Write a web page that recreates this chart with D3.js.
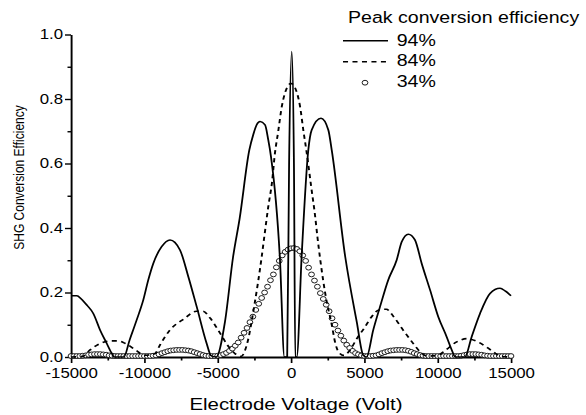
<!DOCTYPE html>
<html>
<head>
<meta charset="utf-8">
<script src="https://cdn.jsdelivr.net/npm/d3@7"></script>
<style>
  body { margin: 0; background: #fff; }
  svg { display: block; }
  text { font-family: "Liberation Sans", Arial, sans-serif; fill: #000; }
</style>
</head>
<body>
<div id="chart"></div>
<script>
// peak conversion efficiency 94% (solid)
var solidVolts = [-15000,-14600,-14300,-13900,-13480,-13020,-12560,-12220,-12050,-11400,
  -11000,-10520,-10070,-9730,-9390,-8820,-8250,-7570,-7000,-6430,
  -5750,-5450,-5100,-4500,-3950,-3500,-2840,-2570,-2340,-2110,
  -1770,-1550,-1360,-750,-450,-260,-130,50,200,290,
  390,730,1180,1410,2045,2545,2775,3700,4480,4930,
  5150,5610,6070,6630,7200,7550,8000,8450,8910,9480,
  10040,10610,10960,11200,11850,12320,12890,13570,14250,14600,15000];
var solidEff = [0.19,0.19,0.18,0.16,0.135,0.084,0.042,0.011,0,0,
  0.053,0.115,0.177,0.239,0.29,0.342,0.363,0.332,0.249,0.156,
  0.042,0.004,0,0.11,0.31,0.43,0.642,0.69,0.72,0.73,
  0.72,0.673,0.62,0.30,0,0,0.6,0.947,0.6,0,
  0,0.316,0.642,0.704,0.74,0.704,0.642,0.31,0.11,0.005,
  0,0.084,0.156,0.239,0.30,0.357,0.381,0.363,0.29,0.208,
  0.125,0.063,0.022,0,0,0.063,0.135,0.197,0.213,0.205,0.19];

// 84% (dashed)
var dashVolts = [-15000,-14200,-13700,-13000,-12300,-11800,-11300,-10600,-10000,-9300,
  -8900,-8250,-7300,-6450,-6000,-5500,-4850,-4300,-3800,-3400,
  -3000,-2500,-2000,-1800,-1550,-1300,-1100,-870,-630,-400,
  0,400,620,850,1050,1400,1650,1800,2000,2400,
  2780,3000,3250,3600,4000,4500,5000,5500,6000,6500,
  7000,7700,8400,8800,9300,10000,10500,11300,12000,12600,
  13300,13800,14300,15000];
var dashEff = [0,0.002,0.022,0.042,0.05,0.05,0.042,0.022,0.005,0.01,
  0.04,0.084,0.118,0.142,0.142,0.12,0.075,0.035,0.01,0.002,
  0.04,0.16,0.31,0.38,0.466,0.54,0.63,0.70,0.776,0.82,
  0.848,0.82,0.776,0.70,0.64,0.52,0.435,0.373,0.30,0.18,
  0.10,0.047,0.015,0.005,0.02,0.058,0.09,0.125,0.146,0.148,
  0.125,0.08,0.038,0.016,0.003,0.005,0.02,0.047,0.057,0.05,
  0.032,0.016,0.002,0];

// 34% (open circles), one every 200 V
var circleVolts = d3.range(-15000, 15001, 200);
var circleEff = [
  0.003,0.003,0.003,0.003,0.004,0.005,0.007,0.008,0.009,0.009,
  0.009,0.008,0.007,0.005,0.004,0.003,0.003,0.003,0.003,0.003,
  0.003,0.003,0.003,0.003,0.003,0.003,0.003,0.003,0.004,0.005,
  0.008,0.012,0.015,0.018,0.02,0.021,0.022,0.022,0.022,0.021,
  0.02,0.018,0.015,0.012,0.009,0.006,0.004,0.003,0.003,0.003,
  0.004,0.006,0.009,0.013,0.019,0.026,0.035,0.045,0.06,0.075,
  0.09,0.108,0.125,0.146,0.165,0.183,0.2,0.218,0.238,0.256,
  0.278,0.298,0.315,0.326,0.333,0.337,0.338,0.335,0.328,0.315,
  0.298,0.277,0.256,0.237,0.218,0.198,0.18,0.162,0.142,0.12,
  0.1,0.082,0.066,0.051,0.038,0.028,0.019,0.012,0.008,0.005,
  0.003,0.003,0.003,0.004,0.005,0.008,0.012,0.015,0.018,0.02,
  0.021,0.022,0.022,0.022,0.021,0.019,0.016,0.012,0.009,0.006,
  0.004,0.003,0.003,0.003,0.003,0.003,0.003,0.003,0.003,0.003,
  0.003,0.003,0.003,0.004,0.006,0.008,0.009,0.009,0.009,0.008,
  0.007,0.005,0.004,0.003,0.003,0.003,0.003,0.003,0.003,0.003,
  0.003];

var xMajor = [-15000, -10000, -5000, 0, 5000, 10000, 15000];
var xMinor = [-12500, -7500, -2500, 2500, 7500, 12500];
var yMajor = [0, 0.2, 0.4, 0.6, 0.8, 1.0];
var yMinor = [0.1, 0.3, 0.5, 0.7, 0.9];
var legendLabels = ["94%", "84%", "34%"];

// the original figure is stretched sideways, so draw in a squeezed space
var SX = 1.2;
var W = 586, H = 415;

var svg = d3.select("#chart").append("svg")
    .attr("width", W)
    .attr("height", H);
var g = svg.append("g").attr("transform", "scale(" + SX + ",1)");

var x = d3.scaleLinear().domain([-15000, 15000]).range([71 / SX, 511 / SX]);
var y = d3.scaleLinear().domain([0, 1]).range([357, 34.5]);

// y axis
var yAx = g.append("g").attr("transform", "translate(" + x(-15000) + ",0)");
yAx.call(d3.axisLeft(y).tickValues(yMajor).tickSize(6 / SX).tickPadding(2 / SX)
    .tickSizeOuter(0).tickFormat(d3.format(".1f")));
yAx.append("g").call(d3.axisLeft(y).tickValues(yMinor).tickSize(3.5 / SX).tickFormat(""))
    .select(".domain").remove();

// x axis
var xAx = g.append("g").attr("transform", "translate(0," + y(0) + ")");
xAx.call(d3.axisBottom(x).tickValues(xMajor).tickSize(6).tickPadding(5)
    .tickSizeOuter(0).tickFormat(function(d) { return String(d); }));
xAx.append("g").call(d3.axisBottom(x).tickValues(xMinor).tickSize(3.5).tickFormat(""))
    .select(".domain").remove();

g.selectAll(".tick text")
    .attr("font-family", "'Liberation Sans', Arial, sans-serif")
    .attr("font-size", 14);
yAx.selectAll("path.domain").attr("stroke-width", 1.6);
xAx.selectAll("path.domain").attr("stroke-width", 2);
g.selectAll(".tick line").attr("stroke-width", 1.4);

// axis titles
g.append("text")
    .attr("x", 296 / SX)
    .attr("y", 410)
    .attr("text-anchor", "middle")
    .attr("font-size", 17)
    .text("Electrode Voltage (Volt)");

g.append("text")
    .attr("transform", "translate(" + (23.5 / SX) + ",177.5) rotate(-90)")
    .attr("text-anchor", "middle")
    .attr("font-size", 12)
    .text("SHG Conversion Efficiency");

// circles (34%)
var circData = circleVolts.map(function(v, i) { return [v, circleEff[i]]; });
g.append("g").selectAll("circle")
    .data(circData)
  .enter().append("circle")
    .attr("cx", function(d) { return x(d[0]); })
    .attr("cy", function(d) { return y(d[1]); })
    .attr("r", 2.4)
    .attr("fill", "#fff")
    .attr("stroke", "#000")
    .attr("stroke-width", 0.8);

var line = d3.line()
    .x(function(d) { return x(d[0]); })
    .y(function(d) { return y(d[1]); })
    .curve(d3.curveMonotoneX);

// dashed (84%)
g.append("path")
    .datum(dashVolts.map(function(v, i) { return [v, dashEff[i]]; }))
    .attr("fill", "none")
    .attr("stroke", "#000")
    .attr("stroke-width", 1.6)
    .attr("stroke-dasharray", "4.2,3.7")
    .attr("d", line);

// solid (94%)
g.append("path")
    .datum(solidVolts.map(function(v, i) { return [v, solidEff[i]]; }))
    .attr("fill", "none")
    .attr("stroke", "#000")
    .attr("stroke-width", 1.5)
    .attr("d", line);

// legend
var lg = g.append("g");
lg.append("text")
    .attr("x", 348 / SX)
    .attr("y", 23.5)
    .attr("font-size", 16.3)
    .text("Peak conversion efficiency");

var rowY = [46.5, 66.5, 87];
lg.append("line")
    .attr("x1", 343 / SX).attr("x2", 388 / SX)
    .attr("y1", 40.7).attr("y2", 40.7)
    .attr("stroke", "#000").attr("stroke-width", 1.5);
lg.append("line")
    .attr("x1", 343 / SX).attr("x2", 386 / SX)
    .attr("y1", 61.7).attr("y2", 61.7)
    .attr("stroke", "#000").attr("stroke-width", 1.6)
    .attr("stroke-dasharray", "4.2,3.7");
lg.append("circle")
    .attr("cx", 365 / SX).attr("cy", 82.7).attr("r", 2.4)
    .attr("fill", "#fff").attr("stroke", "#000").attr("stroke-width", 0.8);

lg.selectAll("text.lab")
    .data(legendLabels)
  .enter().append("text")
    .attr("class", "lab")
    .attr("x", 396.7 / SX)
    .attr("y", function(d, i) { return rowY[i]; })
    .attr("font-size", 16.3)
    .text(function(d) { return d; });
</script>
</body>
</html>
